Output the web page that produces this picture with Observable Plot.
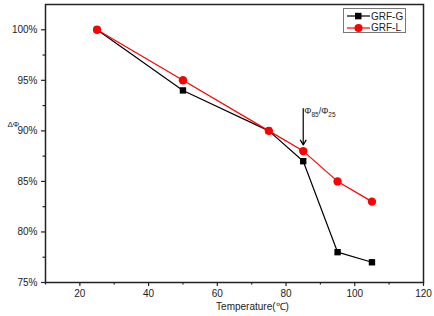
<!DOCTYPE html>
<html>
<head>
<meta charset="utf-8">
<script src="https://cdn.jsdelivr.net/npm/d3@7"></script>
<script src="https://cdn.jsdelivr.net/npm/@observablehq/plot@0.6"></script>
<style>
  html, body { margin: 0; padding: 0; background: #fff; }
  #wrap { position: relative; width: 434px; height: 316px; font-family: "Liberation Sans", Arial, sans-serif; }
  #legend { position: absolute; left: 343px; top: 8px; width: 63px; height: 25px; border: 1px solid #777; background: #fff; box-sizing: border-box; }
  #legend .row { position: absolute; left: 3px; height: 12px; display: flex; align-items: center; font-size: 10px; color: #222; white-space: nowrap; width: 60px; }
  #legend svg { display: block; margin-right: 1px; flex: none; }
</style>
</head>
<body>
<div id="wrap"></div>
<script>
// ---- data ----
const temperatures = [25, 50, 75, 85, 95, 105];
const grfG = [100, 94, 90, 87, 78, 77];
const grfL = [100, 95, 90, 88, 85, 83];
const seriesNames = ["GRF-G", "GRF-L"];
const seriesColors = ["#000000", "#ff0000"];
const xTicks = [20, 40, 60, 80, 100, 120];
const xMinorTicks = [10, 30, 50, 70, 90, 110];
const yTicks = [75, 80, 85, 90, 95, 100];
const yMinorTicks = [77.5, 82.5, 87.5, 92.5, 97.5];
const annotX = [85];
const annotFrom = [92.2];
const annotTo = [88.6];
const annotLabel = "Φ85/Φ25";

const rows = [];
temperatures.forEach((t, i) => {
  rows.push({series: seriesNames[0], t, v: grfG[i]});
  rows.push({series: seriesNames[1], t, v: grfL[i]});
});
const gRows = rows.filter(d => d.series === seriesNames[0]);
const lRows = rows.filter(d => d.series === seriesNames[1]);
const annot = annotX.map((x, i) => ({x, y1: annotFrom[i], y2: annotTo[i]}));

const font = "Liberation Sans, Arial, sans-serif";

const chart = Plot.plot({
  width: 434,
  height: 316,
  marginLeft: 45,
  marginRight: 11,
  marginTop: 4,
  marginBottom: 34,
  style: {fontFamily: font, fontSize: "10px", color: "#222", background: "transparent"},
  x: {domain: [10, 120]},
  y: {domain: [75, 102.5]},
  marks: [
    Plot.frame({stroke: "#222", strokeWidth: 1.5}),
    Plot.axisX({ticks: xTicks, tickSize: 4, tickPadding: 3, label: null, stroke: "#222", strokeWidth: 1.2}),
    Plot.axisX({ticks: xMinorTicks, tickSize: 2.5, text: null, label: null, stroke: "#222", strokeWidth: 1.2}),
    Plot.axisY({ticks: yTicks, tickSize: 4, tickPadding: 4, tickFormat: d => d + "%", label: null, stroke: "#222", strokeWidth: 1.2}),
    Plot.axisY({ticks: yMinorTicks, tickSize: 2.5, text: null, label: null, stroke: "#222", strokeWidth: 1.2}),
    Plot.text(["Temperature(℃)"], {frameAnchor: "bottom", dx: 18, dy: 27, fontSize: 10, fill: "#222"}),
    Plot.text(["ΔΦ"], {frameAnchor: "left", dx: -38, dy: -19, fontSize: 8, fill: "#222", textAnchor: "start"}),
    Plot.line(gRows, {x: "t", y: "v", stroke: seriesColors[0], strokeWidth: 1.2}),
    Plot.line(lRows, {x: "t", y: "v", stroke: seriesColors[1], strokeWidth: 1.2}),
    Plot.dot(gRows, {x: "t", y: "v", symbol: "square", r: 3.6, fill: seriesColors[0], stroke: "none"}),
    Plot.dot(lRows, {x: "t", y: "v", symbol: "circle", r: 4.2, fill: seriesColors[1], stroke: "none"}),
    Plot.arrow(annot, {x1: "x", x2: "x", y1: "y1", y2: "y2", stroke: "#000", strokeWidth: 1.2, headLength: 7, bend: 0}),
    Plot.text(annot, {x: "x", y: "y1", text: () => annotLabel, textAnchor: "start", dx: 1, dy: 2, fontSize: 9, fill: "#222"})
  ]
});

// subscripts for the annotation
chart.querySelectorAll("text").forEach(t => {
  if (t.textContent === annotLabel) {
    t.textContent = "";
    const parts = [["Φ", 0, 9], ["85", 3, 6.5], ["/Φ", -3, 9], ["25", 3, 6.5]];
    parts.forEach(([s, dy, fs]) => {
      const ts = document.createElementNS("http://www.w3.org/2000/svg", "tspan");
      ts.textContent = s;
      ts.setAttribute("dy", dy);
      ts.setAttribute("font-size", fs);
      t.appendChild(ts);
    });
  }
});

const wrap = document.getElementById("wrap");
wrap.appendChild(chart);

// legend
const legend = document.createElement("div");
legend.id = "legend";
seriesNames.forEach((name, i) => {
  const row = document.createElement("div");
  row.className = "row";
  row.style.top = (i * 11.5 + 1) + "px";
  const sym = i === 0
    ? `<rect x="8" y="2.8" width="6.5" height="6.5" fill="${seriesColors[i]}"/>`
    : `<circle cx="11.5" cy="6" r="4" fill="${seriesColors[i]}"/>`;
  row.innerHTML = `<svg width="23" height="12"><line x1="0" x2="23" y1="6" y2="6" stroke="${seriesColors[i]}" stroke-width="1.2"/>${sym}</svg><span>${name}</span>`;
  legend.appendChild(row);
});
wrap.appendChild(legend);
</script>
</body>
</html>
